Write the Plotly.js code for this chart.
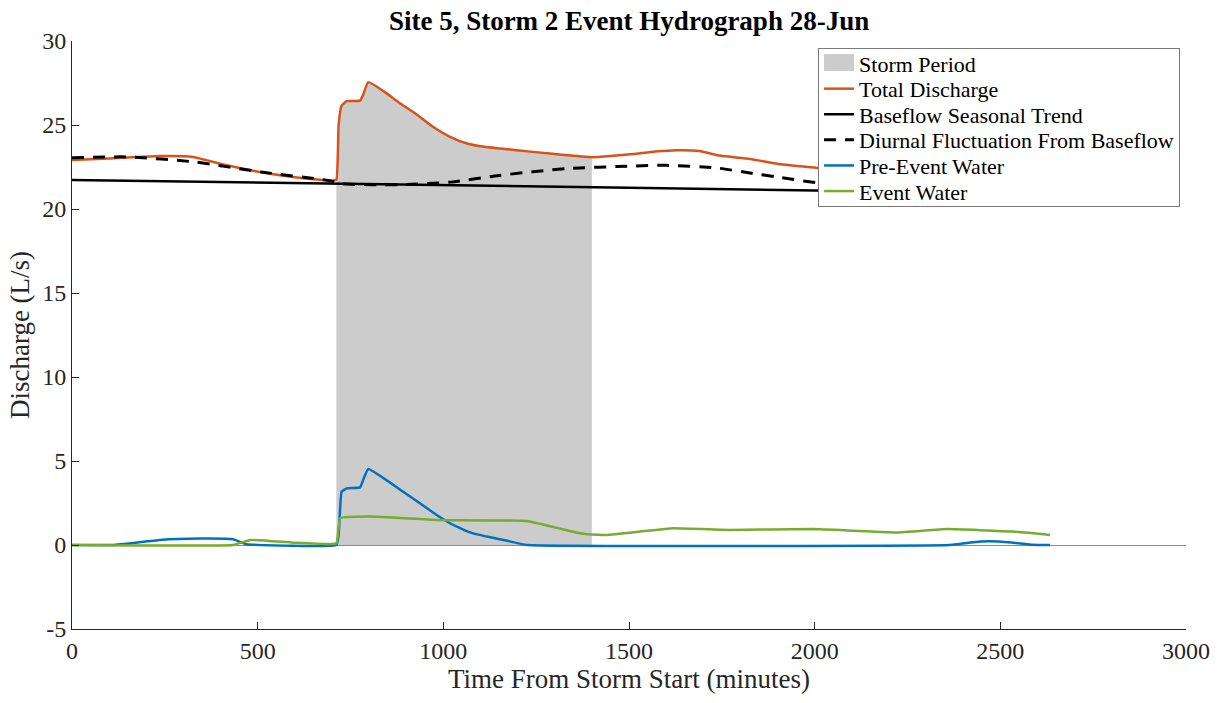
<!DOCTYPE html>
<html>
<head>
<meta charset="utf-8">
<script src="https://cdn.plot.ly/plotly-3.0.1.min.js"></script>
<style>html,body{margin:0;padding:0;background:#fff;}#chart{width:1225px;height:703px;}</style>
</head>
<body>
<div id="chart"></div>
<script>
// ---- Data ----
const stormStart = 712;
const stormEnd = 1400;

const totalX = [0, 100, 237, 326, 417, 506, 595, 660, 703, 712, 718, 726, 740, 776, 784, 798, 840, 883, 930, 972, 1018, 1064, 1110, 1153, 1241, 1333, 1400, 1450, 1511, 1570, 1629, 1690, 1737, 1826, 1899, 2009, 2222, 2356, 2460, 2634];
const totalY = [22.92, 23.0, 23.15, 23.1, 22.6, 22.2, 21.9, 21.75, 21.7, 21.75, 25.0, 26.15, 26.42, 26.45, 26.8, 27.55, 27.0, 26.3, 25.6, 24.9, 24.3, 23.9, 23.7, 23.6, 23.4, 23.2, 23.08, 23.15, 23.27, 23.42, 23.5, 23.45, 23.2, 22.98, 22.7, 22.44, 21.9, 22.0, 22.15, 21.9];

const baseX = [0, 500, 1000, 1500, 2000, 2634];
const baseY = [21.72, 21.58, 21.42, 21.27, 21.1, 20.92];

const diurnalX = [0, 150, 330, 510, 690, 730, 880, 1020, 1150, 1330, 1510, 1600, 1737, 1826, 1899, 2009, 2200, 2320, 2450, 2634];
const diurnalY = [23.05, 23.1, 22.8, 22.2, 21.7, 21.5, 21.45, 21.6, 22.0, 22.4, 22.56, 22.6, 22.44, 22.14, 21.9, 21.55, 21.12, 21.0, 21.1, 21.3];

const preX = [0, 110, 237, 345, 434, 470, 712, 718, 726, 740, 776, 784, 798, 892, 982, 1027, 1072, 1117, 1162, 1225, 2365, 2420, 2470, 2530, 2588, 2634];
const preY = [0, 0, 0.3, 0.38, 0.34, 0.05, 0, 0.6, 3.17, 3.37, 3.43, 3.87, 4.52, 3.17, 1.79, 1.19, 0.75, 0.5, 0.3, 0, 0, 0.15, 0.22, 0.15, 0.02, 0];

const eventX = [0, 434, 480, 596, 712, 722, 803, 982, 1225, 1341, 1368, 1400, 1441, 1530, 1619, 1772, 1996, 2222, 2356, 2534, 2634];
const eventY = [0, 0, 0.3, 0.14, 0.1, 1.59, 1.69, 1.49, 1.43, 0.83, 0.7, 0.62, 0.6, 0.8, 1.0, 0.9, 0.95, 0.75, 0.95, 0.8, 0.6];

const xTicks = [0, 500, 1000, 1500, 2000, 2500, 3000];
const yTicks = [-5, 0, 5, 10, 15, 20, 25, 30];

// storm period area: the total-discharge curve restricted to the storm window
const stormX = [], stormY = [];
totalX.forEach((x, i) => { if (x >= stormStart && x <= stormEnd) { stormX.push(x); stormY.push(totalY[i]); } });

const FONT = 'Times New Roman, Liberation Serif, serif';

const traces = [
  {x: stormX, y: stormY, name: 'Storm Period', mode: 'lines', fill: 'tozeroy',
   fillcolor: '#cccccc', line: {width: 0, color: '#cccccc'}, hoverinfo: 'skip'},
  {x: totalX, y: totalY, name: 'Total Discharge', mode: 'lines', line: {color: '#D95319', width: 2.5, shape: 'spline', smoothing: 0.4}},
  {x: baseX, y: baseY, name: 'Baseflow Seasonal Trend', mode: 'lines', line: {color: '#000000', width: 2.5}},
  {x: diurnalX, y: diurnalY, name: 'Diurnal Fluctuation From Baseflow', mode: 'lines', line: {color: '#000000', width: 3, dash: '12px,9px', shape: 'spline', smoothing: 0.6}},
  {x: preX, y: preY, name: 'Pre-Event Water', mode: 'lines', line: {color: '#0072BD', width: 2.5, shape: 'spline', smoothing: 0.3}},
  {x: eventX, y: eventY, name: 'Event Water', mode: 'lines', line: {color: '#77AC30', width: 2.5, shape: 'spline', smoothing: 0.3}}
];

const layout = {
  width: 1225, height: 703,
  paper_bgcolor: '#ffffff', plot_bgcolor: '#ffffff',
  margin: {l: 72, r: 39, t: 41, b: 74},
  font: {family: FONT, color: '#262626', size: 22},
  title: {text: '<b>Site 5, Storm 2 Event Hydrograph 28-Jun</b>', font: {family: FONT, size: 27, color: '#000'},
          x: 0.5135, xanchor: 'center', y: 0.971, yanchor: 'middle', yref: 'container'},
  xaxis: {range: [0, 3000], tickvals: xTicks, ticktext: xTicks.map(String),
          ticks: 'inside', ticklen: 7, tickcolor: '#262626', showline: true, linecolor: '#262626', linewidth: 1,
          showgrid: false, zeroline: false, tickfont: {size: 24, family: FONT, color: '#262626'},
          title: {text: 'Time From Storm Start (minutes)', font: {size: 27, family: FONT, color: '#262626'}, standoff: 4}},
  yaxis: {range: [-5, 30], tickvals: yTicks, ticktext: yTicks.map(String),
          ticks: 'inside', ticklen: 7, tickcolor: '#262626', showline: true, linecolor: '#262626', linewidth: 1,
          showgrid: false, zeroline: true, zerolinecolor: '#8a8a8a', zerolinewidth: 1,
          tickfont: {size: 24, family: FONT, color: '#262626'},
          title: {text: 'Discharge (L/s)', font: {size: 27, family: FONT, color: '#262626'}, standoff: 4}},
  legend: {x: 0.6697, y: 0.988, xanchor: 'left', yanchor: 'top', bgcolor: '#ffffff',
           bordercolor: '#7a7a7a', borderwidth: 1, font: {family: FONT, size: 22, color: '#000'},
           itemwidth: 30, tracegroupgap: 0},
  showlegend: true
};

Plotly.newPlot('chart', traces, layout, {displayModeBar: false, staticPlot: true}).then(gd => {
  // tighten legend row spacing to match the compact reference legend
  try {
    const legend = gd.querySelector('.legend');
    const items = legend.querySelectorAll('.traces');
    const gap = 25.6, first = 15;
    items.forEach((it, i) => {
      const m = /translate\(\s*([-\d.e]+)[ ,]+([-\d.e]+)\s*\)/.exec(it.getAttribute('transform') || '');
      const x = m ? parseFloat(m[1]) : 0;
      it.setAttribute('transform', 'translate(' + x + ',' + (first + i * gap) + ')');
    });
    const h = first + (items.length - 1) * gap + 15;
    const bg = legend.querySelector('rect.bg');
    if (bg) bg.setAttribute('height', h);
    // storm period legend swatch as a filled box
    const fillIcon = items[0].querySelector('.legendfill path');
    if (fillIcon) fillIcon.setAttribute('d', 'M5,-9h30v17h-30z');
  } catch (e) {}
});
</script>
</body>
</html>
